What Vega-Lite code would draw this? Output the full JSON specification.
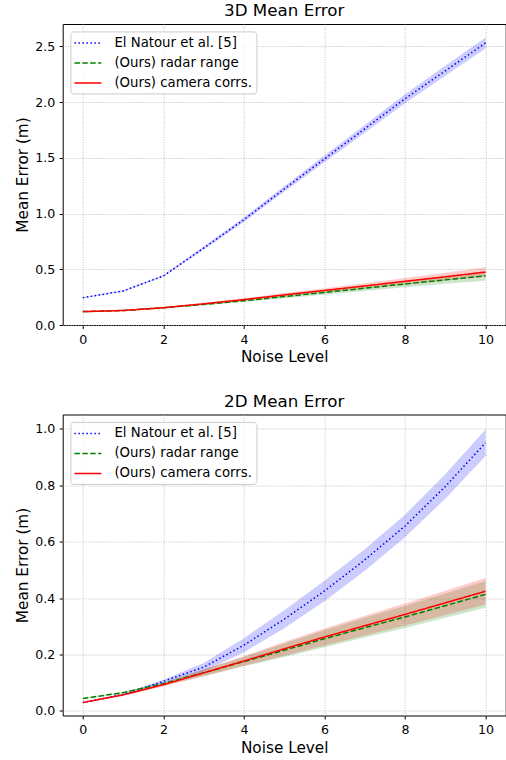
{
  "$schema": "https://vega.github.io/schema/vega-lite/v6.json",
  "padding": {"left": 14.7, "top": 2, "right": 0, "bottom": 0},
  "spacing": 26.5,
  "config": {
    "font": "DejaVu Sans",
    "view": {"stroke": "black", "strokeWidth": 1},
    "title": {"fontSize": 16.7, "fontWeight": "normal", "color": "black", "offset": 4, "anchor": "middle"},
    "axis": {
      "domain": false, "tickColor": "black", "tickSize": 3.5, "tickWidth": 1,
      "labelFontSize": 12.6, "labelColor": "black", "labelPadding": 4.5,
      "titleFontSize": 15.3, "titleFontWeight": "normal", "titleColor": "black", "titlePadding": 4,
      "grid": true, "gridColor": "#b0b0b0", "gridDash": [1, 1.5], "gridWidth": 0.8
    },
    "legend": {
      "orient": "none", "legendX": 7.7, "legendY": 7.4,
      "fillColor": "rgba(255,255,255,0.8)", "strokeColor": "#cccccc", "cornerRadius": 3, "padding": 4,
      "labelFontSize": 13.3, "labelColor": "black", "labelOffset": 19,
      "symbolType": "M-2,0H2", "symbolStrokeWidth": 1.5, "symbolSize": 182, "symbolOffset": 6, "rowPadding": 6
    }
  },
  "data": {"values": [
    {"panel": "3D", "series": "El Natour et al. [5]", "x": 0, "y": 0.245, "lo": 0.240, "hi": 0.250},
    {"panel": "3D", "series": "El Natour et al. [5]", "x": 1, "y": 0.305, "lo": 0.299, "hi": 0.311},
    {"panel": "3D", "series": "El Natour et al. [5]", "x": 2, "y": 0.44, "lo": 0.432, "hi": 0.448},
    {"panel": "3D", "series": "El Natour et al. [5]", "x": 3, "y": 0.69, "lo": 0.675, "hi": 0.705},
    {"panel": "3D", "series": "El Natour et al. [5]", "x": 4, "y": 0.945, "lo": 0.925, "hi": 0.965},
    {"panel": "3D", "series": "El Natour et al. [5]", "x": 5, "y": 1.22, "lo": 1.195, "hi": 1.245},
    {"panel": "3D", "series": "El Natour et al. [5]", "x": 6, "y": 1.49, "lo": 1.46, "hi": 1.52},
    {"panel": "3D", "series": "El Natour et al. [5]", "x": 7, "y": 1.76, "lo": 1.725, "hi": 1.795},
    {"panel": "3D", "series": "El Natour et al. [5]", "x": 8, "y": 2.03, "lo": 1.99, "hi": 2.07},
    {"panel": "3D", "series": "El Natour et al. [5]", "x": 9, "y": 2.28, "lo": 2.235, "hi": 2.325},
    {"panel": "3D", "series": "El Natour et al. [5]", "x": 10, "y": 2.53, "lo": 2.48, "hi": 2.58},
    {"panel": "3D", "series": "(Ours) radar range", "x": 0, "y": 0.12, "lo": 0.115, "hi": 0.125},
    {"panel": "3D", "series": "(Ours) radar range", "x": 1, "y": 0.13, "lo": 0.125, "hi": 0.135},
    {"panel": "3D", "series": "(Ours) radar range", "x": 2, "y": 0.155, "lo": 0.149, "hi": 0.161},
    {"panel": "3D", "series": "(Ours) radar range", "x": 3, "y": 0.185, "lo": 0.177, "hi": 0.193},
    {"panel": "3D", "series": "(Ours) radar range", "x": 4, "y": 0.218, "lo": 0.206, "hi": 0.230},
    {"panel": "3D", "series": "(Ours) radar range", "x": 5, "y": 0.255, "lo": 0.239, "hi": 0.271},
    {"panel": "3D", "series": "(Ours) radar range", "x": 6, "y": 0.292, "lo": 0.272, "hi": 0.312},
    {"panel": "3D", "series": "(Ours) radar range", "x": 7, "y": 0.33, "lo": 0.305, "hi": 0.355},
    {"panel": "3D", "series": "(Ours) radar range", "x": 8, "y": 0.368, "lo": 0.338, "hi": 0.398},
    {"panel": "3D", "series": "(Ours) radar range", "x": 9, "y": 0.405, "lo": 0.369, "hi": 0.441},
    {"panel": "3D", "series": "(Ours) radar range", "x": 10, "y": 0.44, "lo": 0.397, "hi": 0.483},
    {"panel": "3D", "series": "(Ours) camera corrs.", "x": 0, "y": 0.12, "lo": 0.115, "hi": 0.125},
    {"panel": "3D", "series": "(Ours) camera corrs.", "x": 1, "y": 0.13, "lo": 0.125, "hi": 0.135},
    {"panel": "3D", "series": "(Ours) camera corrs.", "x": 2, "y": 0.155, "lo": 0.149, "hi": 0.161},
    {"panel": "3D", "series": "(Ours) camera corrs.", "x": 3, "y": 0.19, "lo": 0.182, "hi": 0.198},
    {"panel": "3D", "series": "(Ours) camera corrs.", "x": 4, "y": 0.228, "lo": 0.216, "hi": 0.240},
    {"panel": "3D", "series": "(Ours) camera corrs.", "x": 5, "y": 0.27, "lo": 0.254, "hi": 0.286},
    {"panel": "3D", "series": "(Ours) camera corrs.", "x": 6, "y": 0.31, "lo": 0.29, "hi": 0.33},
    {"panel": "3D", "series": "(Ours) camera corrs.", "x": 7, "y": 0.35, "lo": 0.325, "hi": 0.375},
    {"panel": "3D", "series": "(Ours) camera corrs.", "x": 8, "y": 0.392, "lo": 0.362, "hi": 0.422},
    {"panel": "3D", "series": "(Ours) camera corrs.", "x": 9, "y": 0.432, "lo": 0.396, "hi": 0.468},
    {"panel": "3D", "series": "(Ours) camera corrs.", "x": 10, "y": 0.475, "lo": 0.432, "hi": 0.518},
    {"panel": "2D", "series": "El Natour et al. [5]", "x": 0, "y": 0.03, "lo": 0.028, "hi": 0.032},
    {"panel": "2D", "series": "El Natour et al. [5]", "x": 1, "y": 0.058, "lo": 0.055, "hi": 0.061},
    {"panel": "2D", "series": "El Natour et al. [5]", "x": 2, "y": 0.105, "lo": 0.099, "hi": 0.111},
    {"panel": "2D", "series": "El Natour et al. [5]", "x": 3, "y": 0.155, "lo": 0.140, "hi": 0.170},
    {"panel": "2D", "series": "El Natour et al. [5]", "x": 4, "y": 0.233, "lo": 0.208, "hi": 0.258},
    {"panel": "2D", "series": "El Natour et al. [5]", "x": 5, "y": 0.325, "lo": 0.293, "hi": 0.357},
    {"panel": "2D", "series": "El Natour et al. [5]", "x": 6, "y": 0.425, "lo": 0.389, "hi": 0.461},
    {"panel": "2D", "series": "El Natour et al. [5]", "x": 7, "y": 0.535, "lo": 0.497, "hi": 0.573},
    {"panel": "2D", "series": "El Natour et al. [5]", "x": 8, "y": 0.655, "lo": 0.615, "hi": 0.695},
    {"panel": "2D", "series": "El Natour et al. [5]", "x": 9, "y": 0.795, "lo": 0.752, "hi": 0.838},
    {"panel": "2D", "series": "El Natour et al. [5]", "x": 10, "y": 0.95, "lo": 0.903, "hi": 0.997},
    {"panel": "2D", "series": "(Ours) radar range", "x": 0, "y": 0.044, "lo": 0.042, "hi": 0.046},
    {"panel": "2D", "series": "(Ours) radar range", "x": 1, "y": 0.065, "lo": 0.062, "hi": 0.068},
    {"panel": "2D", "series": "(Ours) radar range", "x": 2, "y": 0.097, "lo": 0.091, "hi": 0.103},
    {"panel": "2D", "series": "(Ours) radar range", "x": 3, "y": 0.135, "lo": 0.123, "hi": 0.147},
    {"panel": "2D", "series": "(Ours) radar range", "x": 4, "y": 0.175, "lo": 0.158, "hi": 0.192},
    {"panel": "2D", "series": "(Ours) radar range", "x": 5, "y": 0.215, "lo": 0.191, "hi": 0.239},
    {"panel": "2D", "series": "(Ours) radar range", "x": 6, "y": 0.256, "lo": 0.226, "hi": 0.286},
    {"panel": "2D", "series": "(Ours) radar range", "x": 7, "y": 0.295, "lo": 0.26, "hi": 0.33},
    {"panel": "2D", "series": "(Ours) radar range", "x": 8, "y": 0.333, "lo": 0.294, "hi": 0.372},
    {"panel": "2D", "series": "(Ours) radar range", "x": 9, "y": 0.373, "lo": 0.33, "hi": 0.416},
    {"panel": "2D", "series": "(Ours) radar range", "x": 10, "y": 0.413, "lo": 0.366, "hi": 0.46},
    {"panel": "2D", "series": "(Ours) camera corrs.", "x": 0, "y": 0.03, "lo": 0.028, "hi": 0.032},
    {"panel": "2D", "series": "(Ours) camera corrs.", "x": 1, "y": 0.057, "lo": 0.054, "hi": 0.06},
    {"panel": "2D", "series": "(Ours) camera corrs.", "x": 2, "y": 0.093, "lo": 0.087, "hi": 0.099},
    {"panel": "2D", "series": "(Ours) camera corrs.", "x": 3, "y": 0.135, "lo": 0.123, "hi": 0.147},
    {"panel": "2D", "series": "(Ours) camera corrs.", "x": 4, "y": 0.177, "lo": 0.16, "hi": 0.194},
    {"panel": "2D", "series": "(Ours) camera corrs.", "x": 5, "y": 0.22, "lo": 0.196, "hi": 0.244},
    {"panel": "2D", "series": "(Ours) camera corrs.", "x": 6, "y": 0.262, "lo": 0.232, "hi": 0.292},
    {"panel": "2D", "series": "(Ours) camera corrs.", "x": 7, "y": 0.302, "lo": 0.267, "hi": 0.337},
    {"panel": "2D", "series": "(Ours) camera corrs.", "x": 8, "y": 0.342, "lo": 0.303, "hi": 0.381},
    {"panel": "2D", "series": "(Ours) camera corrs.", "x": 9, "y": 0.383, "lo": 0.34, "hi": 0.426},
    {"panel": "2D", "series": "(Ours) camera corrs.", "x": 10, "y": 0.424, "lo": 0.377, "hi": 0.471}
  ]},
  "resolve": {
    "scale": {"color": "independent", "strokeDash": "independent", "fill": "independent", "y": "independent"},
    "legend": {"color": "independent", "strokeDash": "independent"}
  },
  "vconcat": [
    {
      "title": "3D Mean Error",
      "width": 443, "height": 301,
      "transform": [{"filter": "datum.panel === '3D'"}],
      "encoding": {
        "x": {"field": "x", "type": "quantitative", "title": "Noise Level",
              "scale": {"domain": [-0.5, 10.5], "nice": false, "zero": false},
              "axis": {"values": [0, 2, 4, 6, 8, 10], "format": "d"}}
      },
      "layer": [
        {
          "mark": {"type": "area", "fillOpacity": 0.2, "clip": true},
          "encoding": {
            "y": {"field": "lo", "type": "quantitative", "title": "Mean Error (m)",
                  "scale": {"domain": [0, 2.7], "nice": false, "zero": false},
                  "axis": {"values": [0, 0.5, 1, 1.5, 2, 2.5], "format": ".1f"}},
            "y2": {"field": "hi"},
            "fill": {"field": "series", "type": "nominal", "legend": null,
                     "scale": {"domain": ["(Ours) camera corrs.", "(Ours) radar range", "El Natour et al. [5]"], "range": ["#ff0000", "#008000", "#0000ff"]}}
          }
        },
        {
          "mark": {"type": "line", "strokeWidth": 1.5, "clip": true},
          "encoding": {
            "y": {"field": "y", "type": "quantitative"},
            "color": {"field": "series", "type": "nominal", "legend": {"title": null},
                      "scale": {"domain": ["El Natour et al. [5]", "(Ours) radar range", "(Ours) camera corrs."], "range": ["#0000ff", "#008000", "#ff0000"]}},
            "strokeDash": {"field": "series", "type": "nominal", "legend": {"title": null},
                      "scale": {"domain": ["El Natour et al. [5]", "(Ours) radar range", "(Ours) camera corrs."], "range": [[1.5, 2.5], [5.5, 2.4], [1, 0]]}}
          }
        }
      ]
    },
    {
      "title": "2D Mean Error",
      "width": 443, "height": 301,
      "transform": [{"filter": "datum.panel === '2D'"}],
      "encoding": {
        "x": {"field": "x", "type": "quantitative", "title": "Noise Level",
              "scale": {"domain": [-0.5, 10.5], "nice": false, "zero": false},
              "axis": {"values": [0, 2, 4, 6, 8, 10], "format": "d"}}
      },
      "layer": [
        {
          "mark": {"type": "area", "fillOpacity": 0.2, "clip": true},
          "encoding": {
            "y": {"field": "lo", "type": "quantitative", "title": "Mean Error (m)",
                  "scale": {"domain": [-0.016, 1.05], "nice": false, "zero": false},
                  "axis": {"values": [0, 0.2, 0.4, 0.6, 0.8, 1.0], "format": ".1f"}},
            "y2": {"field": "hi"},
            "fill": {"field": "series", "type": "nominal", "legend": null,
                     "scale": {"domain": ["(Ours) camera corrs.", "(Ours) radar range", "El Natour et al. [5]"], "range": ["#ff0000", "#008000", "#0000ff"]}}
          }
        },
        {
          "mark": {"type": "line", "strokeWidth": 1.5, "clip": true},
          "encoding": {
            "y": {"field": "y", "type": "quantitative"},
            "color": {"field": "series", "type": "nominal", "legend": {"title": null},
                      "scale": {"domain": ["El Natour et al. [5]", "(Ours) radar range", "(Ours) camera corrs."], "range": ["#0000ff", "#008000", "#ff0000"]}},
            "strokeDash": {"field": "series", "type": "nominal", "legend": {"title": null},
                      "scale": {"domain": ["El Natour et al. [5]", "(Ours) radar range", "(Ours) camera corrs."], "range": [[1.5, 2.5], [5.5, 2.4], [1, 0]]}}
          }
        }
      ]
    }
  ]
}
